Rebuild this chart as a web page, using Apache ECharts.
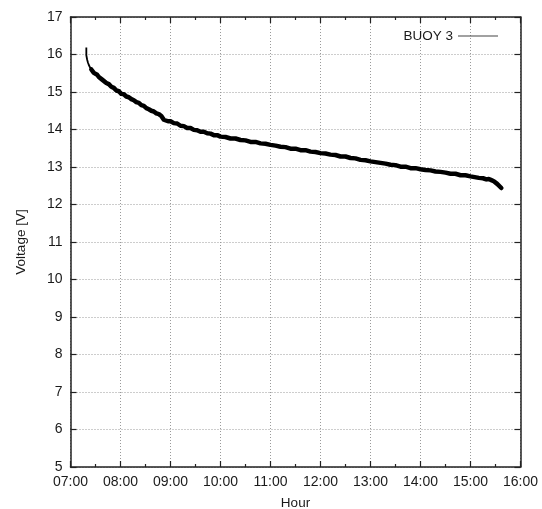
<!DOCTYPE html>
<html>
<head>
<meta charset="utf-8">
<script src="https://cdn.jsdelivr.net/npm/echarts@6/dist/echarts.min.js"></script>
<style>
html,body{margin:0;padding:0;background:#fff;}
#c{width:542px;height:509px;}
</style>
</head>
<body>
<div id="c"></div>
<script>
const seriesName = 'BUOY 3';
const xTickLabels = ['07:00','08:00','09:00','10:00','11:00','12:00','13:00','14:00','15:00','16:00'];
const yTicks = [5,6,7,8,9,10,11,12,13,14,15,16,17];

// initial spike (thin trace)
const startTimes = ['07:19','07:19','07:20','07:21','07:22','07:23','07:24','07:26'];
const startVolts = [16.19,15.98,15.86,15.78,15.72,15.67,15.63,15.57];

// main discharge trace (noisy band)
const mainTimes = ['07:25','07:26','07:28','07:30','07:32','07:34','07:36','07:38','07:40','07:43','07:46','07:49','07:52','07:55','07:58',
 '08:01','08:04','08:07','08:10','08:13','08:16','08:19','08:22','08:25','08:28','08:31','08:34','08:37','08:40','08:43','08:46','08:49','08:51','08:52','08:54','08:57',
 '09:00','09:04','09:08','09:12','09:16','09:20','09:24','09:28','09:32','09:36','09:40','09:44','09:48','09:52','09:56',
 '10:00','10:06','10:12','10:18','10:24','10:30','10:36','10:42','10:48','10:54',
 '11:00','11:06','11:12','11:18','11:24','11:30','11:36','11:42','11:48','11:54',
 '12:00','12:06','12:12','12:18','12:24','12:30','12:36','12:42','12:48','12:54',
 '13:00','13:06','13:12','13:18','13:24','13:30','13:36','13:42','13:48','13:54',
 '14:00','14:06','14:12','14:18','14:24','14:30','14:36','14:42','14:48','14:54',
 '15:00','15:05','15:10','15:15','15:19','15:22','15:25','15:28','15:30','15:32','15:34','15:37'];
const mainVolts = [15.60,15.55,15.51,15.46,15.46,15.40,15.39,15.33,15.31,15.24,15.21,15.14,15.11,15.04,15.02,
 14.95,14.94,14.88,14.86,14.81,14.78,14.73,14.71,14.65,14.63,14.57,14.54,14.50,14.48,14.43,14.41,14.36,14.34,14.26,14.26,14.22,
 14.22,14.17,14.16,14.10,14.09,14.04,14.04,13.99,13.98,13.94,13.94,13.90,13.89,13.85,13.85,
 13.81,13.80,13.76,13.76,13.72,13.71,13.67,13.67,13.63,13.62,
 13.59,13.57,13.54,13.53,13.49,13.49,13.45,13.45,13.41,13.40,
 13.37,13.36,13.33,13.32,13.28,13.28,13.24,13.23,13.19,13.18,
 13.15,13.13,13.11,13.09,13.06,13.05,13.01,13.01,12.97,12.97,
 12.94,12.92,12.91,12.88,12.87,12.85,12.82,12.82,12.78,12.78,
 12.75,12.73,12.71,12.70,12.67,12.68,12.65,12.62,12.59,12.55,12.51,12.44];

function toHours(s){ const p = s.split(':'); return +p[0] + (+p[1])/60; }
function pairs(ts, vs){ return ts.map((t,i)=>[toHours(t), vs[i]]); }
function fmtX(v){ const h = Math.round(v); return (h<10?'0':'')+h+':00'; }

const FONT = "'Liberation Sans', Arial, Helvetica, sans-serif";
const TXT = '#1a1a1a';
const axisLine = {show:true, lineStyle:{color:'#222', width:1.5}};
const gridLine = {show:true, lineStyle:{color:'#9a9a9a', type:[1,2], width:1}};

const el = document.getElementById('c');
const chart = echarts.init(el, null, {width:542, height:509});
chart.setOption({
  animation:false,
  backgroundColor:'#fff',
  grid:{left:70.5, width:450, top:17, height:450, containLabel:false, outerBoundsMode:'none'},
  legend:{
    data:[seriesName], right:39, top:24, align:'right', itemWidth:40, itemHeight:14, itemGap:8,
    textStyle:{fontFamily:FONT, fontSize:13.5, color:TXT},
    icon:'path://M0,7L40,7L40,8L0,8Z', itemStyle:{color:'#444'}
  },
  xAxis:[{
    type:'value', min:7, max:16, interval:1, position:'bottom',
    axisLine:axisLine, splitLine:gridLine,
    axisTick:{show:true, inside:true, length:6, lineStyle:{color:'#222', width:1.2}},
    minorTick:{show:true, splitNumber:2, length:3, lineStyle:{color:'#222', width:1.2}},
    axisLabel:{formatter:fmtX, fontFamily:FONT, fontSize:14, color:TXT, margin:8},
    name:'Hour', nameLocation:'middle', nameGap:29,
    nameTextStyle:{fontFamily:FONT, fontSize:13.5, color:TXT}
  },{
    type:'value', min:7, max:16, interval:1, position:'top',
    axisLine:axisLine, splitLine:{show:false},
    axisTick:{show:true, inside:true, length:6, lineStyle:{color:'#222', width:1.2}},
    minorTick:{show:true, splitNumber:2, length:3, lineStyle:{color:'#222', width:1.2}},
    axisLabel:{show:false}
  }],
  yAxis:[{
    type:'value', min:5, max:17, interval:1, position:'left',
    axisLine:axisLine, splitLine:gridLine,
    axisTick:{show:true, inside:true, length:6, lineStyle:{color:'#222', width:1.2}},
    axisLabel:{fontFamily:FONT, fontSize:14, color:TXT, margin:8},
    name:'Voltage [V]', nameLocation:'middle', nameGap:42, nameRotate:90,
    nameTextStyle:{fontFamily:FONT, fontSize:13.5, color:TXT}
  },{
    type:'value', min:5, max:17, interval:1, position:'right',
    axisLine:axisLine, splitLine:{show:false},
    axisTick:{show:true, inside:true, length:6, lineStyle:{color:'#222', width:1.2}},
    axisLabel:{show:false}
  }],
  series:[{
    name:seriesName, type:'line', data:pairs(mainTimes, mainVolts), showSymbol:false, symbol:'none',
    lineStyle:{color:'#000', width:4.5, join:'round', cap:'round'}, itemStyle:{color:'#444'}, z:3
  },{
    name:'start', type:'line', data:pairs(startTimes, startVolts), showSymbol:false, symbol:'none',
    lineStyle:{color:'#000', width:1.8}, z:3
  }]
});
</script>
</body>
</html>
